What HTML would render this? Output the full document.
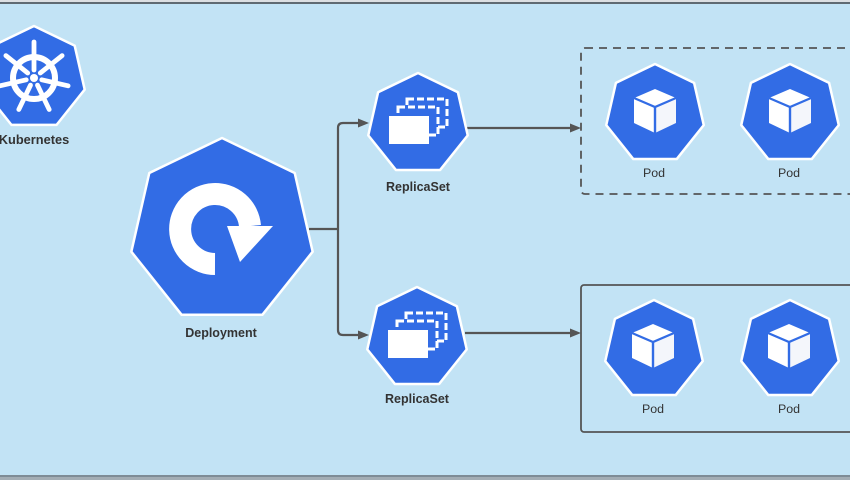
<!DOCTYPE html>
<html><head><meta charset="utf-8"><style>
html,body{margin:0;padding:0;background:#c2e3f5;}
svg{display:block;}
text{font-family:"Liberation Sans",sans-serif;fill:#333;}
</style></head><body>
<svg width="850" height="480" viewBox="0 0 850 480" xmlns="http://www.w3.org/2000/svg">
<defs>
<polygon id="hep" points="0,-1 0.78183,-0.62349 0.97493,0.22252 0.43388,0.90097 -0.43388,0.90097 -0.97493,0.22252 -0.78183,-0.62349" fill="#326ce5" stroke="#ffffff" stroke-width="2.5" stroke-linejoin="round" vector-effect="non-scaling-stroke"/>
<g id="cube">
<polygon points="0,-22 21,-13 0,-4 -21,-13" fill="#fff"/>
<polygon points="-21,-13 0,-4 0,22 -21,12" fill="#fff"/>
<polygon points="21,-13 0,-4 0,22 21,12" fill="#f4f6fb"/>
<polyline points="-21,-13 0,-4 21,-13" fill="none" stroke="#326ce5" stroke-width="2.2"/>
<line x1="0" y1="-4" x2="0" y2="22" stroke="#326ce5" stroke-width="2.4"/>
</g>
<g id="rs">
<rect x="-11" y="-25" width="40" height="28" fill="#326ce5" stroke="#fff" stroke-width="3" stroke-dasharray="7 3"/>
<rect x="-20" y="-17" width="40" height="28" fill="#326ce5" stroke="#fff" stroke-width="3" stroke-dasharray="7 3"/>
<rect x="-29" y="-8" width="40" height="28" fill="#fff"/>
</g>
</defs>
<rect x="0" y="0" width="850" height="480" fill="#c2e3f5"/>
<rect x="0" y="0" width="850" height="2" fill="#dcdfe2"/>
<rect x="0" y="2" width="850" height="2" fill="#5f6a72"/>
<rect x="0" y="475" width="850" height="2" fill="#7e8c96"/>
<rect x="0" y="477" width="850" height="3" fill="#a3adb4"/>

<!-- boxes -->
<rect x="581" y="48" width="320" height="146" rx="4" fill="none" stroke="#555" stroke-width="1.8" stroke-dasharray="8 6"/>
<rect x="581" y="285" width="320" height="147" rx="3" fill="none" stroke="#555" stroke-width="1.8"/>

<!-- connectors -->
<g fill="none" stroke="#555" stroke-width="2.2">
<path d="M309,229 H338"/>
<path d="M360,123 H343 Q338,123 338,128 V330 Q338,335 343,335 H360"/>
<path d="M467,128 H572"/>
<path d="M465,333 H572"/>
</g>
<g fill="#555">
<polygon points="369,123 358,118.5 358,127.5"/>
<polygon points="369,335 358,330.5 358,339.5"/>
<polygon points="581,128 570,123.5 570,132.5"/>
<polygon points="581,333 570,328.5 570,337.5"/>
</g>

<!-- Kubernetes -->
<use href="#hep" transform="translate(34,78) scale(52)"/>
<g stroke="#fff" fill="none">
<circle cx="34" cy="78" r="21" stroke-width="6"/>
<g stroke-width="4.8" stroke-linecap="round">
<line x1="34" y1="70" x2="34" y2="42"/>
<line x1="40.3" y1="73" x2="62.1" y2="55.6"/>
<line x1="41.8" y1="79.8" x2="68.1" y2="85.8"/>
<line x1="37.5" y1="85.2" x2="49.2" y2="109.5"/>
<line x1="30.5" y1="85.2" x2="18.8" y2="109.5"/>
<line x1="26.2" y1="79.8" x2="-0.1" y2="85.8"/>
<line x1="27.7" y1="73" x2="5.9" y2="55.6"/>
</g>
</g>
<circle cx="34" cy="78" r="4" fill="#fff"/>
<text x="34" y="144" font-size="12.8" font-weight="bold" text-anchor="middle">Kubernetes</text>

<!-- Deployment -->
<use href="#hep" transform="translate(222,231) scale(93)"/>
<path d="M215,264 A35,35 0 1 1 250,226" fill="none" stroke="#fff" stroke-width="22"/>
<polygon points="227,226 273,226 240,262" fill="#fff"/>
<text x="221" y="337" font-size="12.5" font-weight="bold" text-anchor="middle">Deployment</text>

<!-- ReplicaSets -->
<use href="#hep" transform="translate(418,124) scale(51)"/>
<use href="#rs" transform="translate(418,124)"/>
<text x="418" y="191" font-size="12.5" font-weight="bold" text-anchor="middle">ReplicaSet</text>

<use href="#hep" transform="translate(417,338) scale(51)"/>
<use href="#rs" transform="translate(417,338)"/>
<text x="417" y="403" font-size="12.5" font-weight="bold" text-anchor="middle">ReplicaSet</text>

<!-- Pods -->
<use href="#hep" transform="translate(655,114) scale(50)"/>
<use href="#cube" transform="translate(655,111)"/>
<text x="654" y="177" font-size="12.4" text-anchor="middle">Pod</text>

<use href="#hep" transform="translate(790,114) scale(50)"/>
<use href="#cube" transform="translate(790,111)"/>
<text x="789" y="177" font-size="12.4" text-anchor="middle">Pod</text>

<use href="#hep" transform="translate(654,350) scale(50)"/>
<use href="#cube" transform="translate(653,346)"/>
<text x="653" y="413" font-size="12.4" text-anchor="middle">Pod</text>

<use href="#hep" transform="translate(790,350) scale(50)"/>
<use href="#cube" transform="translate(789,346)"/>
<text x="789" y="413" font-size="12.4" text-anchor="middle">Pod</text>
</svg>
</body></html>
